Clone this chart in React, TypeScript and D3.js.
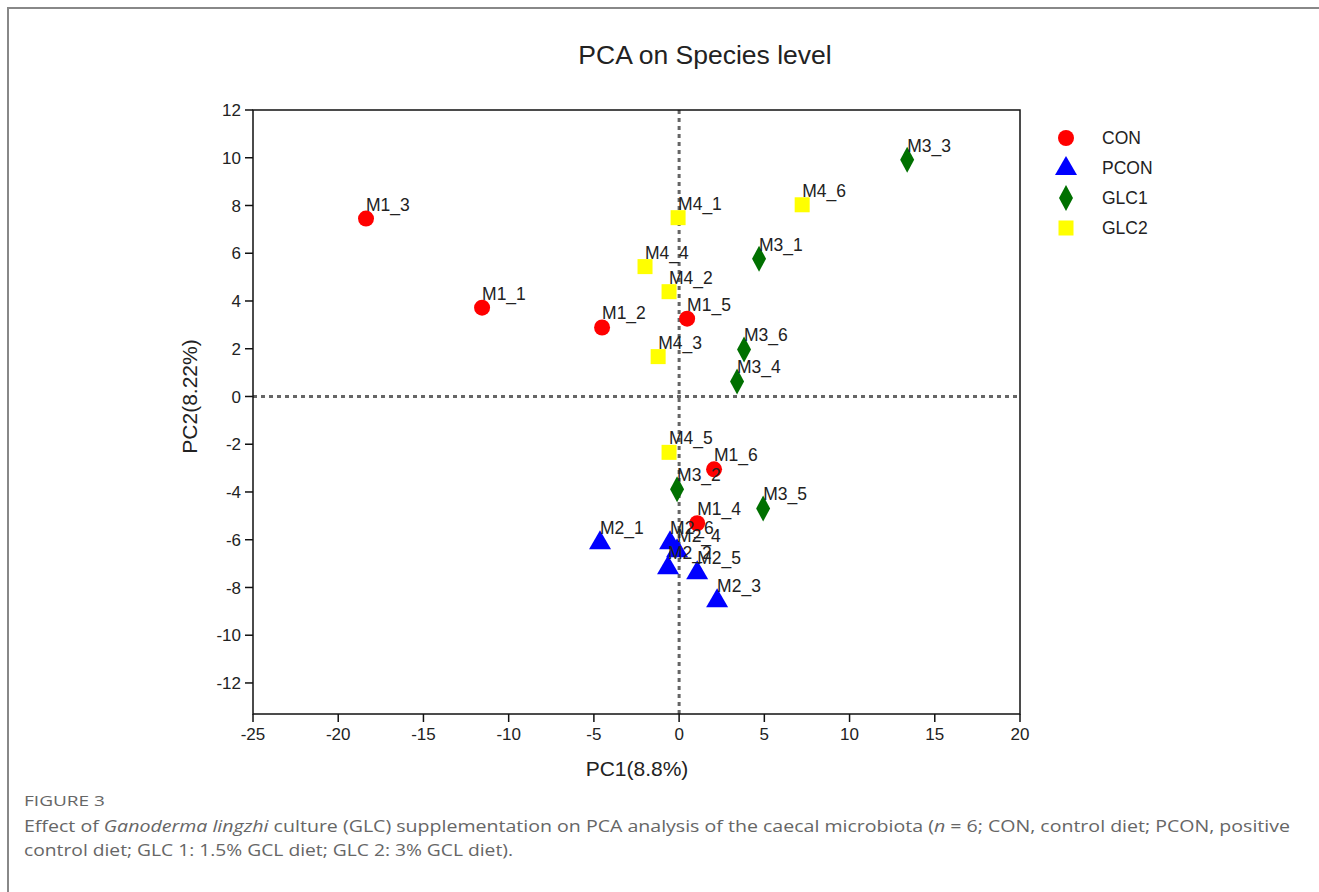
import React from "react";
import * as d3 from "d3";

const groups = ["CON", "PCON", "GLC1", "GLC2"];
const groupColors = ["#ff0000", "#0000ff", "#007000", "#ffff00"];

const conLabels = ["M1_3", "M1_1", "M1_2", "M1_5", "M1_6", "M1_4"];
const conX = [-18.37, -11.56, -4.52, 0.47, 2.05, 1.06];
const conY = [7.45, 3.72, 2.89, 3.26, -3.05, -5.31];

const pconLabels = ["M2_1", "M2_4", "M2_6", "M2_2", "M2_5", "M2_3"];
const pconX = [-4.64, -0.12, -0.53, -0.65, 1.06, 2.23];
const pconY = [-6.11, -6.44, -6.11, -7.15, -7.36, -8.54];

const glc1Labels = ["M3_3", "M3_1", "M3_6", "M3_4", "M3_2", "M3_5"];
const glc1X = [13.38, 4.69, 3.81, 3.40, -0.12, 4.93];
const glc1Y = [9.92, 5.77, 1.97, 0.63, -3.89, -4.69];

const glc2Labels = ["M4_6", "M4_1", "M4_4", "M4_2", "M4_3", "M4_5"];
const glc2X = [7.22, -0.06, -2.0, -0.59, -1.23, -0.59];
const glc2Y = [8.03, 7.49, 5.44, 4.39, 1.67, -2.34];

const xTicks = [-25, -20, -15, -10, -5, 0, 5, 10, 15, 20];
const yTicks = [12, 10, 8, 6, 4, 2, 0, -2, -4, -6, -8, -10, -12];

const W = 1319;
const H = 892;
const L = 253, R = 1020, T = 110, B = 714;

const xScale = d3.scaleLinear().domain([-25, 20]).range([L, R]);
const yScale = d3.scaleLinear().domain([12, -13.3]).range([T, B]);

function Marker({ g, x, y }: { g: number; x: number; y: number }) {
  const c = groupColors[g];
  if (g === 0) return <circle cx={x} cy={y} r={8} fill={c} />;
  if (g === 1)
    return <path d={`M${x},${y - 12}L${x + 11},${y + 7}L${x - 11},${y + 7}Z`} fill={c} />;
  if (g === 2)
    return <path d={`M${x},${y - 13}L${x + 7},${y}L${x},${y + 13}L${x - 7},${y}Z`} fill={c} />;
  return <rect x={x - 7.5} y={y - 7.5} width={15} height={15} fill={c} />;
}

export default function App() {
  const series = [
    { labels: conLabels, xs: conX, ys: conY },
    { labels: pconLabels, xs: pconX, ys: pconY },
    { labels: glc1Labels, xs: glc1X, ys: glc1Y },
    { labels: glc2Labels, xs: glc2X, ys: glc2Y },
  ];
  const font = "'Liberation Sans', Arial, sans-serif";
  const capFont = "'Open Sans', Lato, sans-serif";
  return (
    <svg
      width={W}
      height={H}
      style={{ position: "absolute", left: 0, top: 0, background: "#fff" }}
      fontFamily={font}
    >
      <rect x={0} y={0} width={W} height={H} fill="#fff" />
      <line x1={7} y1={8} x2={W} y2={8} stroke="#888" strokeWidth={2} />
      <line x1={8} y1={7} x2={8} y2={H} stroke="#888" strokeWidth={2} />

      <text x={705} y={64} textAnchor="middle" fontSize={26.5} fill="#222">
        PCA on Species level
      </text>

      {/* zero lines */}
      <line x1={xScale(0)} y1={T} x2={xScale(0)} y2={B} stroke="#666" strokeWidth={3} strokeDasharray="4,4" />
      <line x1={L} y1={yScale(0)} x2={R} y2={yScale(0)} stroke="#666" strokeWidth={3} strokeDasharray="4,4" />

      {/* frame */}
      <rect x={L} y={T} width={R - L} height={B - T} fill="none" stroke="#111" strokeWidth={1.5} />

      {xTicks.map((t) => (
        <g key={"x" + t}>
          <line x1={xScale(t)} y1={B} x2={xScale(t)} y2={B + 8} stroke="#111" strokeWidth={1.5} />
          <text x={xScale(t)} y={B + 26} textAnchor="middle" fontSize={17} fill="#222">
            {t}
          </text>
        </g>
      ))}
      {yTicks.map((t) => (
        <g key={"y" + t}>
          <line x1={L - 8} y1={yScale(t)} x2={L} y2={yScale(t)} stroke="#111" strokeWidth={1.5} />
          <text x={L - 12} y={yScale(t)} dy="0.36em" textAnchor="end" fontSize={17} fill="#222">
            {t}
          </text>
        </g>
      ))}

      <text x={637} y={776} textAnchor="middle" fontSize={21} fill="#222">
        PC1(8.8%)
      </text>
      <text
        transform={`translate(197,${yScale(0)}) rotate(-90)`}
        textAnchor="middle"
        fontSize={21}
        fill="#222"
      >
        PC2(8.22%)
      </text>

      {series.map((s, g) =>
        s.xs.map((v, i) => (
          <Marker key={g + "-" + i} g={g} x={xScale(v)} y={yScale(s.ys[i])} />
        ))
      )}
      {series.map((s, g) =>
        s.xs.map((v, i) => (
          <text key={"l" + g + "-" + i} x={xScale(v)} y={yScale(s.ys[i]) - 8} fontSize={17.5} fill="#222">
            {s.labels[i]}
          </text>
        ))
      )}

      {groups.map((name, g) => (
        <g key={name}>
          <Marker g={g} x={1066} y={138 + g * 30} />
          <text x={1102} y={138 + g * 30} dy="0.36em" fontSize={17.5} fill="#222">
            {name}
          </text>
        </g>
      ))}

      <text x={24} y={806} fontSize={14} fill="#666" fontFamily={capFont} textLength={81} lengthAdjust="spacingAndGlyphs">
        FIGURE 3
      </text>
      <text x={24} y={832} fontSize={16} fill="#666" fontFamily={capFont} textLength={1266} lengthAdjust="spacingAndGlyphs">
        Effect of <tspan fontStyle="italic">Ganoderma lingzhi</tspan> culture (GLC) supplementation on PCA analysis of the caecal microbiota (<tspan fontStyle="italic">n</tspan> = 6; CON, control diet; PCON, positive
      </text>
      <text x={24} y={856} fontSize={16} fill="#666" fontFamily={capFont} textLength={489} lengthAdjust="spacingAndGlyphs">
        control diet; GLC 1: 1.5% GCL diet; GLC 2: 3% GCL diet).
      </text>
    </svg>
  );
}
